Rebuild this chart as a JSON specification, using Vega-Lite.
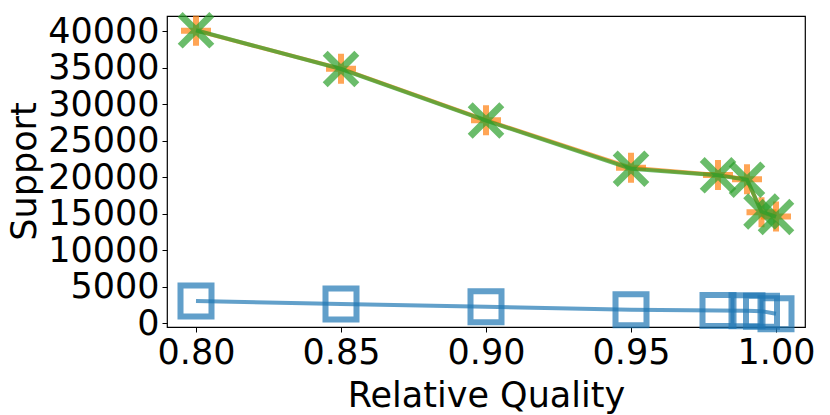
{
  "$schema": "https://vega.github.io/schema/vega-lite/v6.json",
  "width": 638,
  "height": 311,
  "autosize": "none",
  "padding": {"left": 167, "top": 16, "right": 25, "bottom": 88},
  "background": "white",
  "config": {
    "view": {"stroke": "black", "strokeWidth": 1.2},
    "axis": {
      "grid": false,
      "domain": false,
      "ticks": true,
      "tickColor": "black",
      "tickSize": 5,
      "tickWidth": 1,
      "labelFont": "DejaVu Sans",
      "labelFontSize": 35,
      "labelColor": "black",
      "labelPadding": 3,
      "titleFont": "DejaVu Sans",
      "titleFontSize": 35,
      "titleFontWeight": "normal",
      "titleColor": "black"
    }
  },
  "data": {
    "values": [
      {"series": "A", "quality": 0.80, "support": 3050},
      {"series": "A", "quality": 0.85, "support": 2650},
      {"series": "A", "quality": 0.90, "support": 2250},
      {"series": "A", "quality": 0.95, "support": 1850},
      {"series": "A", "quality": 0.98, "support": 1750},
      {"series": "A", "quality": 0.99, "support": 1700},
      {"series": "A", "quality": 0.995, "support": 1650},
      {"series": "A", "quality": 1.00, "support": 1300},
      {"series": "B", "quality": 0.80, "support": 40050},
      {"series": "B", "quality": 0.85, "support": 34850},
      {"series": "B", "quality": 0.90, "support": 27800},
      {"series": "B", "quality": 0.95, "support": 21300},
      {"series": "B", "quality": 0.98, "support": 20300},
      {"series": "B", "quality": 0.99, "support": 19700},
      {"series": "B", "quality": 0.995, "support": 15200},
      {"series": "B", "quality": 1.00, "support": 14600},
      {"series": "C", "quality": 0.80, "support": 40100},
      {"series": "C", "quality": 0.85, "support": 34800},
      {"series": "C", "quality": 0.90, "support": 27750},
      {"series": "C", "quality": 0.95, "support": 21150},
      {"series": "C", "quality": 0.98, "support": 20250},
      {"series": "C", "quality": 0.99, "support": 19650},
      {"series": "C", "quality": 0.995, "support": 15300},
      {"series": "C", "quality": 1.00, "support": 14550}
    ]
  },
  "encoding": {
    "x": {
      "field": "quality",
      "type": "quantitative",
      "scale": {"domain": [0.79, 1.01], "nice": false, "zero": false},
      "axis": {"values": [0.8, 0.85, 0.9, 0.95, 1.0], "format": ".2f", "title": "Relative Quality", "titleY": 79, "titleBaseline": "alphabetic"}
    },
    "y": {
      "field": "support",
      "type": "quantitative",
      "scale": {"domain": [-507, 42057], "nice": false, "zero": false},
      "axis": {"values": [0, 5000, 10000, 15000, 20000, 25000, 30000, 35000, 40000], "format": "d", "title": "Support", "titleX": -143, "titleY": 155, "titleAngle": -90, "titleAlign": "center", "titleBaseline": "middle"}
    }
  },
  "layer": [
    {"transform": [{"filter": "datum.series === 'A'"}], "mark": {"type": "line", "color": "#1f77b4", "strokeWidth": 4, "opacity": 0.7}},
    {"transform": [{"filter": "datum.series === 'A'"}], "mark": {"type": "point", "shape": "square", "size": 961, "filled": false, "strokeWidth": 6, "color": "#1f77b4", "opacity": 0.7}},
    {"transform": [{"filter": "datum.series === 'B'"}], "mark": {"type": "line", "color": "#ff7f0e", "strokeWidth": 4, "opacity": 0.7}},
    {"transform": [{"filter": "datum.series === 'B'"}], "mark": {"type": "point", "shape": "M-1,0H1M0,-1V1", "size": 900, "filled": false, "strokeWidth": 6, "color": "#ff7f0e", "opacity": 0.7}},
    {"transform": [{"filter": "datum.series === 'C'"}], "mark": {"type": "line", "color": "#2ca02c", "strokeWidth": 4, "opacity": 0.7}},
    {"transform": [{"filter": "datum.series === 'C'"}], "mark": {"type": "point", "shape": "M-1,-1L1,1M1,-1L-1,1", "size": 1000, "filled": false, "strokeWidth": 7, "color": "#2ca02c", "opacity": 0.7}}
  ]
}
